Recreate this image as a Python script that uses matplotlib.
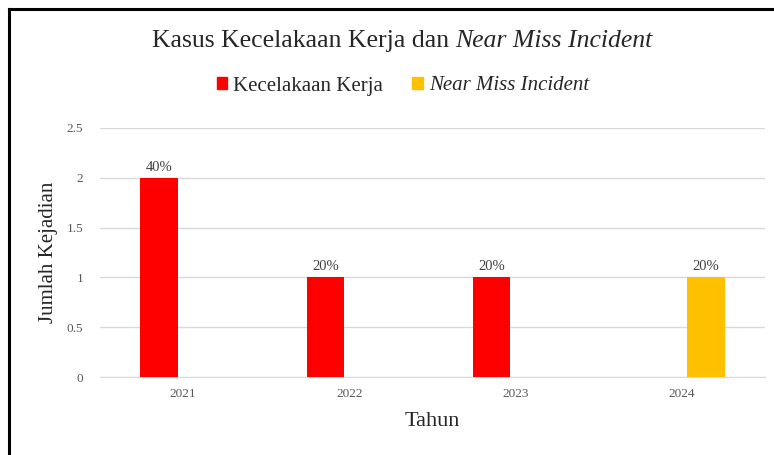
import matplotlib
matplotlib.use("Agg")
import matplotlib.pyplot as plt
from matplotlib.lines import Line2D
from matplotlib.patches import Patch
import numpy as np

years = ["2021", "2022", "2023", "2024"]
kecelakaan = [2, 1, 1, 0]
near_miss = [0, 0, 0, 1]
kec_labels = ["40%", "20%", "20%", None]
nm_labels = [None, None, None, "20%"]
yticks = [0, 0.5, 1, 1.5, 2, 2.5]
ytick_labels = ["0", "0.5", "1", "1.5", "2", "2.5"]

RED = "#FF0000"
YEL = "#FFC000"

plt.rcParams['font.family'] = ['Liberation Serif', 'DejaVu Serif']

W, H = 774, 455
fig = plt.figure(figsize=(W / 100, H / 100), dpi=100)
fig.patch.set_facecolor("white")

# border (top and left visible)
fig.add_artist(Line2D([9 / W, 1.0], [1 - 9 / H, 1 - 9 / H], color="black", lw=2.2, transform=fig.transFigure))
fig.add_artist(Line2D([9 / W, 9 / W], [0, 1 - 9 / H], color="black", lw=2.2, transform=fig.transFigure))

ax = fig.add_axes([100 / W, (H - 377) / H, (765 - 100) / W, (377 - 128) / H])
x = np.arange(len(years))
w = 0.225
off = 0.145
b1 = ax.bar(x - off, kecelakaan, width=w, color=RED, zorder=3)
b2 = ax.bar(x + off, near_miss, width=w, color=YEL, zorder=3)

for rect, lab in zip(b1, kec_labels):
    if lab:
        ax.text(rect.get_x() + rect.get_width() / 2, rect.get_height() + 0.04, lab,
                ha="center", va="bottom", fontsize=10.5, color="#404040")
for rect, lab in zip(b2, nm_labels):
    if lab:
        ax.text(rect.get_x() + rect.get_width() / 2, rect.get_height() + 0.04, lab,
                ha="center", va="bottom", fontsize=10.5, color="#404040")

ax.set_xlim(-0.5, len(years) - 0.5)
ax.set_ylim(0, 2.5)
ax.set_yticks(yticks)
ax.set_yticklabels(ytick_labels, fontsize=9.5, color="#595959")
ax.set_xticks(x)
ax.set_xticklabels(years, fontsize=9.5, color="#595959")
ax.tick_params(axis="y", length=0, pad=12)
ax.tick_params(axis="x", length=0, pad=8)
ax.yaxis.grid(True, color="#D9D9D9", lw=1, zorder=0)
for s in ["top", "right", "left"]:
    ax.spines[s].set_visible(False)
ax.spines["bottom"].set_color("#D9D9D9")

fig.text(48 / W, 1 - 252 / H, "Jumlah Kejadian", rotation=90, ha="center", va="center",
         fontsize=15, color="#262626")
fig.text(432 / W, 1 - 421 / H, "Tahun", ha="center", va="center", fontsize=16, color="#262626")

# Title with mixed styles
fig.canvas.draw()
renderer = fig.canvas.get_renderer()
ty = 1 - 41 / H
t1 = fig.text(0, ty, "Kasus Kecelakaan Kerja dan ", fontsize=18.5, color="#262626", va="center")
t2 = fig.text(0, ty, "Near Miss Incident", fontsize=18.5, color="#262626", va="center", style="italic")
w1 = t1.get_window_extent(renderer).width
w2 = t2.get_window_extent(renderer).width
start = (402 - (w1 + w2) / 2) / W
t1.set_x(start)
t2.set_x(start + w1 / W)

handles = [Patch(color=RED), Patch(color=YEL)]
leg = fig.legend(handles, ["Kecelakaan Kerja", "Near Miss Incident"], loc="center",
                 bbox_to_anchor=(403 / W, 1 - 86 / H), ncol=2, frameon=False,
                 fontsize=15, handlelength=0.5, handleheight=0.5, handletextpad=0.3,
                 columnspacing=1.4)
for t in leg.get_texts():
    t.set_color("#262626")
leg.get_texts()[1].set_fontstyle("italic")

fig.savefig("out.png", dpi=100, facecolor="white")
